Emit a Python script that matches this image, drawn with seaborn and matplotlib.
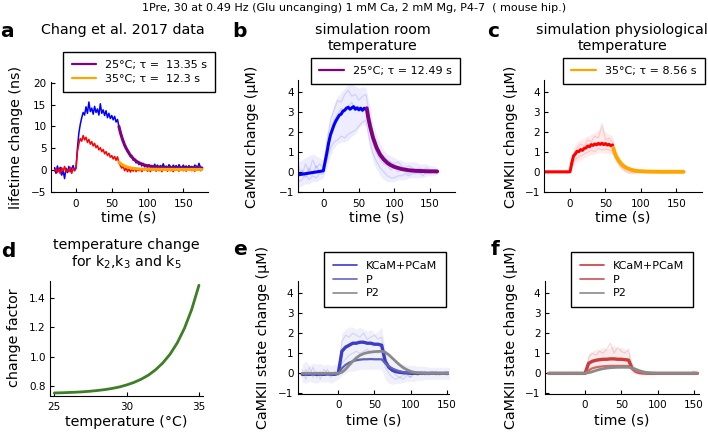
import numpy as np
import matplotlib
matplotlib.use("Agg")
import matplotlib.pyplot as plt
from matplotlib.lines import Line2D
import seaborn as sns

sns.set_theme(style="ticks")
plt.rcParams['font.family'] = ['DejaVu Sans']
plt.rcParams.update({'text.color': 'black', 'axes.labelcolor': 'black',
                     'xtick.color': 'black', 'ytick.color': 'black'})

W, H = 708, 436

# ── data: panel a (Chang et al. 2017) ────────────────────────────────────────
t_exp = np.arange(-30, 177, 2)
blue_exp = [0.5, -0.8, 0.9, -0.3, 0.6, -1.2, -0.2, -2.0, 0.4, -0.6, 0.8, -0.4, 0.3, 1.0, -0.2,
            0.5, 5.0, 8.5, 10.5, 12.0, 13.2, 12.6, 14.5, 13.0, 15.6, 13.4, 14.2, 12.8, 14.6, 13.2,
            14.0, 12.6, 15.2, 13.0, 13.8, 12.5, 13.6, 12.0, 13.0, 11.8, 12.5, 11.5, 12.3, 11.0, 11.6,
            10.0, 8.9, 7.6, 6.8, 5.6, 5.2, 4.1, 4.0, 3.0, 3.2, 2.2, 2.5, 1.6, 2.0, 1.2, 1.6, 0.9, 1.5,
            0.7, 1.2, 0.6,
            1.2, 0.6, 1.0, 0.3, 1.3, 0.7, 1.1, 0.4, 1.0, 0.6, 1.4, 0.5, 0.9, 0.3, 1.2, 0.8, 0.4, 1.1,
            0.6, 1.0, 0.4, 1.2, 0.7, 0.5, 1.1, 0.6, 0.9, 0.4, 1.0, 0.5, 0.8, 0.3, 1.1, 0.9, 0.4, 1.5,
            0.6, 0.5]
red_exp = [-0.3, 0.4, -0.6, 0.2, -0.9, 0.5, -0.2, 0.8, -0.5, 0.1, -0.4, 0.6, -0.8, 0.3, -0.1,
           0.3, 4.2, 6.0, 7.2, 6.6, 7.9, 6.9, 7.5, 6.3, 7.0, 5.9, 6.5, 5.5, 6.1, 5.1,
           5.6, 4.6, 5.1, 4.2, 4.7, 3.7, 4.2, 3.3, 3.8, 2.9, 3.3, 2.5, 3.1, 2.2, 3.0,
           1.6, 1.0, 0.4, 0.9, -0.2, 0.5, -0.4, 0.3, -0.5, 0.2, -0.3, 0.4, -0.4, 0.2, -0.2,
           0.3, -0.4, 0.2, 0.0, 0.4, -0.3, 0.2, -0.4, 0.3, -0.1, 0.4, -0.3, 0.1, -0.2, 0.3,
           -0.4, 0.2, 0.0, 0.3, -0.3, 0.4, -0.2, 0.1, -0.4, 0.3, -0.1, 0.2, -0.3, 0.4, 0.0,
           -0.2, 0.3, -0.3, 0.2, -0.1, 0.4, -0.2, 0.1, -0.3, 0.2, 0.0, 0.3, -0.2, 0.1]
t_fit25_exp = [60, 62, 65, 68, 70, 75, 80, 85, 90, 95, 100, 110, 120, 140, 176]
fit25_exp = [10.0, 8.6, 7.0, 5.7, 5.0, 3.6, 2.6, 1.9, 1.5, 1.15, 0.95, 0.7, 0.56, 0.48, 0.45]
t_fit35_exp = [60, 62, 64, 66, 68, 70, 73, 76, 80, 85, 90, 100, 120, 150, 176]
fit35_exp = [1.8, 1.5, 1.25, 1.05, 0.88, 0.74, 0.58, 0.46, 0.34, 0.25, 0.2, 0.15, 0.12, 0.1, 0.1]

# ── data: panels b, c (simulations) ──────────────────────────────────────────
t_sim = np.arange(-35, 161, 5)
t_mean = [-35] + list(np.arange(0, 60.1, 2.5))
room_mean = [-0.15, 0.05, 0.5, 0.95, 1.45, 1.85, 2.1, 2.35, 2.55, 2.7, 2.85, 2.9, 3.05, 3.1,
             3.2, 3.25, 3.15, 3.22, 3.28, 3.15, 3.22, 3.12, 3.2, 3.1, 3.2, 3.15]
room_lo = [-0.8, -0.7, -0.6, -0.6, -0.5, -0.5, -0.4, -0.3,
           0.2, 0.8, 1.2, 1.4, 1.5, 1.5, 1.6, 1.8, 1.9, 2.2, 2.4, 2.3,
           1.2, 0.5, 0.1, -0.2, -0.4, -0.5, -0.5, -0.5, -0.4, -0.4, -0.4, -0.3, -0.3, -0.3,
           -0.3, -0.3, -0.2, -0.2, -0.2, -0.1]
room_hi = [0.5, 0.6, 0.7, 0.8, 0.9, 0.8, 0.7, 0.6,
           1.8, 2.8, 3.4, 3.8, 4.0, 4.2, 4.4, 4.4, 4.3, 4.2, 4.3, 4.2,
           3.4, 2.4, 1.8, 1.4, 1.1, 0.9, 0.8, 0.7, 0.6, 0.6, 0.5, 0.5, 0.5, 0.5, 0.4, 0.4,
           0.4, 0.3, 0.3, 0.2]
room_runs = [
    [-0.2, 0.1, -0.3, 0.2, -0.1, 0.3, 0.0, 0.1,
     0.6, 1.2, 1.5, 1.6, 1.8, 1.7, 1.9, 2.0, 2.1, 2.3, 2.5, 2.6,
     1.6, 0.9, 0.5, 0.2, 0.0, -0.2, -0.3, -0.3, -0.2, -0.2, -0.1, -0.2, -0.1, 0.0, -0.1,
     0.0, -0.1, 0.0, 0.0, 0.0],
    [0.3, -0.2, 0.4, 0.0, 0.6, 0.2, 0.4, 0.2,
     1.5, 2.6, 3.1, 3.6, 3.5, 3.9, 4.1, 3.8, 3.9, 3.6, 3.8, 3.9,
     2.8, 1.9, 1.4, 1.0, 0.8, 0.6, 0.5, 0.4, 0.5, 0.3, 0.2, 0.3, 0.2, 0.1, 0.2, 0.1, 0.2,
     0.1, 0.1, 0.1],
    [-0.5, -0.4, -0.1, -0.4, -0.2, -0.3, -0.1, -0.1,
     1.0, 2.0, 2.6, 2.9, 3.2, 3.0, 3.3, 3.5, 3.1, 3.3, 3.0, 3.2,
     2.1, 1.4, 0.9, 0.6, 0.4, 0.3, 0.1, 0.2, 0.0, 0.1, 0.0, -0.1, 0.0, -0.1, 0.0, -0.2,
     0.0, -0.1, 0.0, -0.1],
]
t_fit_room = [61, 63, 66, 70, 75, 80, 85, 90, 95, 100, 110, 120, 130, 145, 160]
fit_room = [3.2, 2.75, 2.25, 1.7, 1.2, 0.85, 0.62, 0.45, 0.33, 0.25, 0.14, 0.08, 0.05, 0.03, 0.02]

phys_mean = [0.0, 0.0, 0.45, 0.8, 0.9, 1.03, 1.02, 1.12, 1.08, 1.18, 1.2, 1.3, 1.26, 1.37,
             1.33, 1.4, 1.36, 1.43, 1.38, 1.44, 1.37, 1.42, 1.35, 1.38, 1.32, 1.35]
phys_lo = [-0.05, -0.05, -0.05, -0.05, -0.05, -0.05, -0.05, -0.05,
           0.3, 0.5, 0.6, 0.7, 0.8, 0.85, 0.9, 0.95, 0.95, 0.95, 0.9, 0.9,
           0.5, 0.2, 0.05, -0.05, -0.1, -0.1, -0.08, -0.08, -0.06, -0.06, -0.05, -0.05, -0.05,
           -0.05, -0.05, -0.05, -0.05, -0.05, -0.05, -0.05]
phys_hi = [0.08, 0.08, 0.08, 0.08, 0.08, 0.08, 0.08, 0.08,
           1.2, 1.5, 1.6, 1.7, 1.8, 1.9, 2.0, 2.1, 2.3, 2.0, 1.9, 1.8,
           1.1, 0.7, 0.45, 0.3, 0.2, 0.15, 0.12, 0.1, 0.1, 0.1, 0.1, 0.1, 0.08, 0.08, 0.08,
           0.08, 0.08, 0.08, 0.08, 0.08]
phys_runs = [
    [0.0, 0.0, 0.0, 0.0, 0.0, 0.0, 0.0, 0.0,
     0.9, 1.2, 1.4, 1.3, 1.6, 1.5, 1.8, 1.7, 2.4, 1.6, 1.7, 1.5,
     0.8, 0.4, 0.2, 0.1, 0.05, 0.0, 0.02, 0.0, 0.03, 0.0, 0.02, 0.0, 0.0, 0.02, 0.0, 0.0,
     0.02, 0.0, 0.05, 0.0],
    [0.02, -0.02, 0.02, 0.0, -0.02, 0.02, 0.0, 0.0,
     0.5, 0.7, 0.8, 0.9, 1.0, 1.1, 1.0, 1.2, 1.1, 1.15, 1.1, 1.05,
     0.6, 0.3, 0.1, 0.0, -0.05, -0.05, 0.0, -0.03, 0.0, 0.0, -0.02, 0.0, 0.0, 0.0, 0.0,
     0.0, 0.0, 0.0, 0.0, 0.0],
]
t_fit_phys = [61, 63, 65, 68, 70, 73, 76, 80, 85, 90, 95, 100, 110, 130, 160]
fit_phys = [1.2, 0.95, 0.78, 0.6, 0.5, 0.37, 0.28, 0.19, 0.12, 0.07, 0.04, 0.03, 0.01, 0.0, 0.0]

# ── data: panel d ────────────────────────────────────────────────────────────
temps = np.arange(25, 35.01, 0.5)
change_factor = [0.750, 0.751, 0.753, 0.755, 0.758, 0.762, 0.767, 0.773, 0.781, 0.791, 0.805,
                 0.822, 0.844, 0.872, 0.909, 0.956, 1.016, 1.094, 1.195, 1.324, 1.490]

# ── data: panels e, f (CaMKII states) ────────────────────────────────────────
t_state = np.arange(-50, 156, 5)
room_kcam = [-0.05, -0.04, -0.05, -0.03, -0.05, -0.04, -0.05, -0.03, -0.04, -0.05, 0.0,
             1.1, 1.3, 1.4, 1.5, 1.5, 1.55, 1.55, 1.5, 1.5, 1.45, 1.45, 1.4,
             0.6, 0.3, 0.15, 0.08, 0.05, 0.03, 0.02, 0.0, 0.0, 0.0, 0.0, 0.0, 0.0, 0.0, 0.0,
             0.0, 0.0, 0.0, 0.0]
room_p = [0.0, 0.0, 0.0, 0.0, 0.0, 0.0, 0.0, 0.0, 0.0, 0.0, 0.0,
          0.25, 0.42, 0.53, 0.6, 0.65, 0.68, 0.7, 0.7, 0.71, 0.7, 0.7, 0.7,
          0.5, 0.35, 0.24, 0.16, 0.1, 0.06, 0.04, 0.02, 0.01, 0.0, 0.0, 0.0, 0.0, 0.0, 0.0,
          0.0, 0.0, 0.0, 0.0]
room_p2 = [0.0, 0.0, 0.0, 0.0, 0.0, 0.0, 0.0, 0.0, 0.0, 0.0, 0.0,
           0.05, 0.2, 0.4, 0.6, 0.77, 0.9, 0.98, 1.03, 1.06, 1.08, 1.09, 1.1,
           1.05, 0.92, 0.75, 0.58, 0.42, 0.28, 0.18, 0.1, 0.05, 0.03, 0.01, 0.0, 0.0, 0.0,
           0.0, 0.0, 0.0, 0.0, 0.0]
room_state_lo = [-0.45, -0.5, -0.4, -0.45, -0.5, -0.4, -0.45, -0.4, -0.5, -0.4, -0.3,
                 -0.1, 0.0, 0.1, 0.1, 0.15, 0.2, 0.2, 0.2, 0.2, 0.2, 0.2, 0.2,
                 -0.3, -0.5, -0.55, -0.5, -0.5, -0.45, -0.4, -0.4, -0.4, -0.35, -0.35, -0.3,
                 -0.3, -0.3, -0.3, -0.3, -0.3, -0.3, -0.3]
room_state_hi = [0.45, 0.6, 0.4, 0.5, 0.45, 0.5, 0.4, 0.45, 0.4, 0.45, 0.5,
                 2.0, 2.2, 2.3, 2.3, 2.2, 2.3, 2.2, 2.1, 2.2, 2.0, 2.1, 2.3,
                 1.2, 0.8, 0.6, 0.5, 0.5, 0.45, 0.4, 0.4, 0.4, 0.35, 0.35, 0.35, 0.3, 0.3,
                 0.3, 0.3, 0.3, 0.3, 0.3]
room_state_runs = [
    [0.2, -0.3, 0.3, -0.2, 0.1, -0.3, 0.2, 0.0, -0.2, 0.1, 0.0,
     1.6, 1.9, 1.8, 2.0, 1.9, 1.8, 2.0, 1.7, 1.8, 1.9, 1.7, 1.8,
     0.8, 0.3, 0.1, -0.1, -0.2, -0.1, 0.0, -0.2, 0.1, -0.1, 0.0, 0.1, -0.1, 0.0, 0.1,
     -0.1, 0.0, 0.1, 0.0],
    [-0.2, 0.2, -0.1, 0.3, -0.2, 0.1, -0.1, 0.2, -0.1, 0.0, -0.1,
     0.5, 0.7, 0.9, 1.0, 1.1, 1.0, 1.1, 1.2, 1.0, 1.1, 1.0, 1.1,
     0.3, 0.0, -0.2, -0.3, -0.2, -0.3, -0.1, -0.2, 0.0, -0.1, 0.1, -0.1, 0.0, 0.1, -0.1,
     0.0, 0.0, -0.1, 0.0],
]

phys_kcam = [0.0, 0.0, 0.0, 0.0, 0.0, 0.0, 0.0, 0.0, 0.0, 0.0, 0.0,
             0.5, 0.6, 0.65, 0.68, 0.7, 0.7, 0.72, 0.72, 0.7, 0.7, 0.68, 0.66,
             0.25, 0.1, 0.04, 0.02, 0.01, 0.0, 0.0, 0.0, 0.0, 0.0, 0.0, 0.0, 0.0, 0.0, 0.0,
             0.0, 0.0, 0.0, 0.0]
phys_p = [0.0, 0.0, 0.0, 0.0, 0.0, 0.0, 0.0, 0.0, 0.0, 0.0, 0.0,
          0.15, 0.25, 0.3, 0.33, 0.35, 0.36, 0.37, 0.37, 0.37, 0.37, 0.37, 0.36,
          0.22, 0.12, 0.06, 0.03, 0.01, 0.0, 0.0, 0.0, 0.0, 0.0, 0.0, 0.0, 0.0, 0.0, 0.0,
          0.0, 0.0, 0.0, 0.0]
phys_p2 = [0.0, 0.0, 0.0, 0.0, 0.0, 0.0, 0.0, 0.0, 0.0, 0.0, 0.0,
           0.03, 0.08, 0.14, 0.19, 0.23, 0.26, 0.28, 0.29, 0.3, 0.3, 0.3, 0.3,
           0.27, 0.2, 0.13, 0.08, 0.04, 0.02, 0.01, 0.0, 0.0, 0.0, 0.0, 0.0, 0.0, 0.0, 0.0,
           0.0, 0.0, 0.0, 0.0]
phys_state_lo = [-0.08, -0.08, -0.08, -0.08, -0.08, -0.08, -0.08, -0.08, -0.08, -0.08, -0.08,
                 0.1, 0.2, 0.25, 0.25, 0.3, 0.3, 0.3, 0.3, 0.3, 0.3, 0.3, 0.3,
                 0.0, -0.05, -0.08, -0.08, -0.08, -0.08, -0.08, -0.08, -0.08, -0.08, -0.08,
                 -0.08, -0.08, -0.08, -0.08, -0.08, -0.08, -0.08, -0.08]
phys_state_hi = [0.08, 0.08, 0.1, 0.08, 0.08, 0.12, 0.08, 0.08, 0.1, 0.08, 0.08,
                 1.0, 1.1, 1.2, 1.2, 1.3, 1.2, 1.3, 1.4, 1.2, 1.3, 1.2, 1.1,
                 0.5, 0.3, 0.15, 0.1, 0.1, 0.08, 0.08, 0.08, 0.08, 0.08, 0.08, 0.08, 0.08, 0.08,
                 0.08, 0.08, 0.08, 0.15, 0.08]
phys_state_runs = [
    [0.02, -0.02, 0.03, 0.0, -0.03, 0.02, 0.0, 0.03, -0.02, 0.0, 0.0,
     0.8, 1.0, 0.9, 1.1, 1.0, 1.2, 1.5, 1.0, 1.3, 1.1, 1.0, 1.2,
     0.3, 0.1, 0.05, 0.0, 0.02, 0.0, 0.01, 0.0, 0.02, 0.0, 0.0, 0.01, 0.0, 0.0, 0.02,
     0.0, 0.0, 0.1, 0.0],
]

# ── layout helpers ───────────────────────────────────────────────────────────
def rect(x0, x1, ytop, ybot):
    return [x0 / W, 1 - ybot / H, (x1 - x0) / W, (ybot - ytop) / H]


def style_axes(ax, xlim, ylim, xticks, yticks):
    ax.set_xlim(*xlim)
    ax.set_ylim(*ylim)
    ax.set_xticks(xticks)
    ax.set_yticks(yticks)
    sns.despine(ax=ax)
    for s in ('left', 'bottom'):
        ax.spines[s].set_linewidth(0.8)
        ax.spines[s].set_color('black')
    ax.tick_params(direction='in', length=3, width=0.8, labelsize=7.5, pad=3,
                   colors='black')
    ax.tick_params(axis='x', pad=4.5)
    ax.set_xlabel('')
    ax.set_ylabel('')


def put_legend(ax, handles, labels, x, y):
    leg = ax.legend(handles, labels, loc='upper left', bbox_to_anchor=(x / W, 1 - y / H),
                    bbox_transform=fig.transFigure, fontsize=8, frameon=True,
                    fancybox=False, framealpha=1, edgecolor='black', borderpad=0.75,
                    handlelength=2.2, handletextpad=0.8, labelspacing=0.35,
                    borderaxespad=0)
    leg.get_frame().set_linewidth(1.0)


def line(ax, x, y, color, lw, alpha=1.0):
    sns.lineplot(x=np.asarray(x, float), y=np.asarray(y, float), ax=ax, color=color,
                 linewidth=lw, alpha=alpha, sort=False, estimator=None)


fig = plt.figure(figsize=(W / 100, H / 100), dpi=100)
fig.text(0.5, 1 - 8 / H,
         '1Pre, 30 at 0.49 Hz (Glu uncanging) 1 mM Ca, 2 mM Mg, P4-7  ( mouse hip.)',
         ha='center', va='center', fontsize=8)

TS = 10.3  # title / axis-label size

# ── panel a ──────────────────────────────────────────────────────────────────
ax = fig.add_axes(rect(50.7, 208, 82, 192.3))
line(ax, t_exp, blue_exp, 'blue', 1.1)
line(ax, t_exp, red_exp, 'red', 1.1)
line(ax, t_fit25_exp, fit25_exp, 'purple', 2.2)
line(ax, t_fit35_exp, fit35_exp, 'orange', 2.2)
style_axes(ax, (-35.4, 184.6), (-5.15, 20.2), [0, 50, 100, 150], [-5, 0, 5, 10, 15, 20])
put_legend(ax, [Line2D([], [], color='purple', lw=1.6), Line2D([], [], color='orange', lw=1.6)],
           ['25°C; τ =  13.35 s', '35°C; τ =  12.3 s'], 63.3, 51.7)

# ── panel b ──────────────────────────────────────────────────────────────────
ax = fig.add_axes(rect(298.3, 455, 80, 192.3))
ax.fill_between(t_sim, room_lo, room_hi, color='blue', alpha=0.07, lw=0)
for run in room_runs:
    line(ax, t_sim, run, 'blue', 0.9, alpha=0.12)
line(ax, t_mean, room_mean, 'blue', 2.2)
line(ax, t_fit_room, fit_room, 'purple', 2.8)
style_axes(ax, (-35.1, 185), (-1.03, 4.62), [0, 50, 100, 150], [-1, 0, 1, 2, 3, 4])
put_legend(ax, [Line2D([], [], color='purple', lw=1.6)], ['25°C; τ = 12.49 s'], 311, 57.7)

# ── panel c ──────────────────────────────────────────────────────────────────
ax = fig.add_axes(rect(544.3, 702, 80, 192.3))
ax.fill_between(t_sim, phys_lo, phys_hi, color='red', alpha=0.08, lw=0)
for run in phys_runs:
    line(ax, t_sim, run, 'red', 0.9, alpha=0.15)
line(ax, t_mean, phys_mean, 'red', 2.2)
line(ax, t_fit_phys, fit_phys, 'orange', 2.8)
style_axes(ax, (-36.2, 186), (-1.03, 4.62), [0, 50, 100, 150], [-1, 0, 1, 2, 3, 4])
put_legend(ax, [Line2D([], [], color='orange', lw=1.6)], ['35°C; τ = 8.56 s'], 563, 57.7)

# ── panel d ──────────────────────────────────────────────────────────────────
ax = fig.add_axes(rect(50, 203.3, 281, 395.7))
line(ax, temps, change_factor, '#3d7f25', 2.0)
style_axes(ax, (24.7, 35.3), (0.731, 1.519), [25, 30, 35], [0.8, 1.0, 1.2, 1.4])

# ── panel e ──────────────────────────────────────────────────────────────────
ax = fig.add_axes(rect(297.7, 449.3, 281, 394))
ax.fill_between(t_state, room_state_lo, room_state_hi, color='#4040c8', alpha=0.08, lw=0)
for run in room_state_runs:
    line(ax, t_state, run, '#4040c8', 0.9, alpha=0.15)
line(ax, t_state, room_kcam, '#3c3cc8', 2.4)
line(ax, t_state, room_p, '#6060b4', 1.6)
line(ax, t_state, room_p2, '#8a8a8a', 2.0)
style_axes(ax, (-56.2, 153.7), (-1.03, 4.6), [0, 50, 100, 150], [-1, 0, 1, 2, 3, 4])
put_legend(ax, [Line2D([], [], color='#3c3cc8', lw=1.2), Line2D([], [], color='#6464c8', lw=1.2),
                Line2D([], [], color='#8a8a8a', lw=1.2)],
           ['KCaM+PCaM', 'P', 'P2'], 324.3, 252.3)

# ── panel f ──────────────────────────────────────────────────────────────────
ax = fig.add_axes(rect(544.7, 698.7, 281, 394))
ax.fill_between(t_state, phys_state_lo, phys_state_hi, color='#c83c3c', alpha=0.1, lw=0)
for run in phys_state_runs:
    line(ax, t_state, run, '#c83c3c', 0.9, alpha=0.18)
line(ax, t_state, phys_kcam, '#c83c3c', 2.4)
line(ax, t_state, phys_p, '#d46868', 1.6)
line(ax, t_state, phys_p2, '#8a8a8a', 2.0)
style_axes(ax, (-55.6, 156.8), (-1.03, 4.6), [0, 50, 100, 150], [-1, 0, 1, 2, 3, 4])
put_legend(ax, [Line2D([], [], color='#c83c3c', lw=1.2), Line2D([], [], color='#cc5050', lw=1.2),
                Line2D([], [], color='#8a8a8a', lw=1.2)],
           ['KCaM+PCaM', 'P', 'P2'], 571.3, 252.3)

# ── titles, labels, panel letters ────────────────────────────────────────────
def ftext(x, y, s, **kw):
    fig.text(x / W, 1 - y / H, s, **kw)

ftext(123, 30, 'Chang et al. 2017 data', ha='center', va='center', fontsize=TS)
ftext(373, 38, 'simulation room\ntemperature', ha='center', va='center', fontsize=TS,
      linespacing=1.15)
ftext(622, 38, 'simulation physiological\ntemperature', ha='center', va='center',
      fontsize=TS, linespacing=1.15)
ftext(126, 254.7, 'temperature change\nfor k$_2$,k$_3$ and k$_5$', ha='center', va='center',
      fontsize=TS, linespacing=1.15)

ftext(15.8, 137, 'lifetime change (ns)', rotation=90, ha='center', va='center', fontsize=TS)
ftext(252.5, 137, 'CaMKII change (μM)', rotation=90, ha='center', va='center', fontsize=TS)
ftext(511, 137, 'CaMKII change (μM)', rotation=90, ha='center', va='center', fontsize=TS)
ftext(14, 338, 'change factor', rotation=90, ha='center', va='center', fontsize=TS)
ftext(263.5, 337.5, 'CaMKII state change (μM)', rotation=90, ha='center', va='center',
      fontsize=TS)
ftext(511, 337.5, 'CaMKII state change (μM)', rotation=90, ha='center', va='center',
      fontsize=TS)

ftext(129, 217, 'time (s)', ha='center', va='center', fontsize=TS)
ftext(376.5, 217, 'time (s)', ha='center', va='center', fontsize=TS)
ftext(623, 217, 'time (s)', ha='center', va='center', fontsize=TS)
ftext(126.7, 421.5, 'temperature (°C)', ha='center', va='center', fontsize=TS)
ftext(373.5, 420, 'time (s)', ha='center', va='center', fontsize=TS)
ftext(621.7, 420, 'time (s)', ha='center', va='center', fontsize=TS)

for letter, x, y in [('a', 7, 36.7), ('b', 240, 36.7), ('c', 493, 37.3),
                     ('d', 8, 256.7), ('e', 240, 255), ('f', 495, 255)]:
    ftext(x, y, letter, ha='center', va='baseline', fontsize=14.5, fontweight='bold',
          color='black')

fig.savefig('out.png', dpi=100)
